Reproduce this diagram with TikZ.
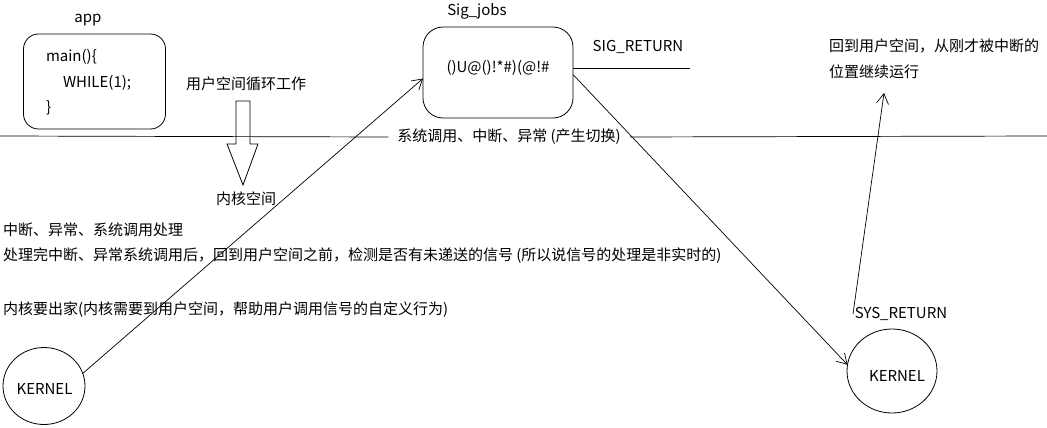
\documentclass[tikz,border=0pt]{standalone}
\usepackage{fontspec}
\setmainfont{Noto Sans CJK SC}
\usetikzlibrary{arrows.meta,shapes.geometric}
\begin{document}
\begin{tikzpicture}[x=1pt,y=-1pt,
  txt/.style={font=\fontsize{15}{18}\selectfont, inner sep=0pt, outer sep=0pt},
  box/.style={draw, line width=0.8pt, inner sep=0pt, outer sep=0pt},
  ln/.style={line width=0.7pt},
  arr/.style={line width=0.7pt, -{Straight Barb[length=10pt,width=12pt]}}]
\useasboundingbox (0,0) rectangle (1047,428);

% app box
\node[txt] (apptitle) at (88,20) {app};
\node[box, rounded corners=15pt, minimum width=142pt, minimum height=95pt] (appbox) at (94.5,81.5) {};
\node[txt, anchor=west] (l1) at (46,57) {main()\{};
\node[txt, anchor=west] (l2) at (63,83) {WHILE(1);};
\node[txt, anchor=west] (l3) at (46,108) {\}};

% user loop text and hollow arrow
\node[txt] (userloop) at (246,84) {用户空间循环工作};
\draw[line width=0.8pt] (236,101) -- (250,101) -- (250,144) -- (258,144) -- (243,185) -- (227,144) -- (236,144) -- cycle;
\node[txt] (kspace) at (246,199) {内核空间};

% separator line
\coordinate (sepL) at (0,136);
\coordinate (sepR) at (1047,136);
\node[txt, inner xsep=9pt] (sep) at (509,137) {系统调用、中断、异常 (产生切换)};
\draw[ln] (sepL) -- (sep.west);
\draw[ln] (sep.east) -- (sepR);

% Sig_jobs box
\node[txt] (sjtitle) at (477,11) {Sig\_jobs};
\node[box, rounded corners=20pt, minimum width=150pt, minimum height=91pt] (sj) at (498,72.5) {};
\node[txt] (sjtext) at (498,68) {()U@()!*\#)(@!\#};

% SIG_RETURN
\node[txt] (sigret) at (638,47) {SIG\_RETURN};
\coordinate (sigretend) at (690,68);
\draw[ln] (sj.east |- sigretend) -- (sigretend);

% right text
\node[txt, anchor=west] (back1) at (829,46) {回到用户空间，从刚才被中断的};
\node[txt, anchor=west] (back2) at (829,72) {位置继续运行};
\coordinate (backtip) at (884,93);

% left texts
\node[txt, anchor=west] (t1) at (3,230) {中断、异常、系统调用处理};
\node[txt, anchor=west] (t2) at (3,256) {处理完中断、异常系统调用后，回到用户空间之前，检测是否有未递送的信号 (所以说信号的处理是非实时的)};
\node[txt, anchor=west] (t3) at (3,310) {内核要出家(内核需要到用户空间，帮助用户调用信号的自定义行为)};

% kernels
\node[draw, ellipse, line width=0.8pt, inner sep=0pt, outer sep=0pt, minimum width=82pt, minimum height=77pt] (kl) at (44,386) {};
\node[txt] (kltext) at (44.5,389) {KERNEL};
\node[draw, ellipse, line width=0.8pt, inner sep=0pt, outer sep=0pt, minimum width=90pt, minimum height=84pt] (kr) at (892,371) {};
\node[txt] (krtext) at (897,376) {KERNEL};
\node[txt] (sysret) at (901,314) {SYS\_RETURN};
\coordinate (sysstart) at (853,314);

% connectors
\draw[arr] (kl.18) -- ([yshift=-6pt]sj.west);
\draw[arr] ([yshift=-2pt]sj.east) -- (kr.172);
\draw[arr] (sysstart) -- (backtip);
\end{tikzpicture}
\end{document}
